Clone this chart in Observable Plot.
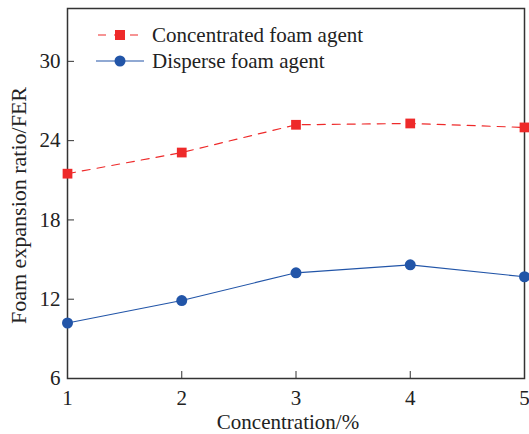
<!DOCTYPE html>
<html>
<head>
<meta charset="utf-8">
<script src="https://cdn.jsdelivr.net/npm/d3@7"></script>
<script src="https://cdn.jsdelivr.net/npm/@observablehq/plot@0.6"></script>
<style>
  html, body { margin: 0; padding: 0; background: #fff; }
  #wrap { position: relative; width: 529px; height: 434px; }
  #wrap svg text, .legend { font-family: "Liberation Serif", "DejaVu Serif", serif !important; }
  .legend { position: absolute; left: 96px; top: 22px; font-size: 21px; color: #222; }
  .legend div { display: flex; align-items: center; height: 26px; }
  .legend svg { margin-right: 8px; }
</style>
</head>
<body>
<div id="wrap"></div>
<script>
const concentration = [1, 2, 3, 4, 5];
const concentrated = [21.5, 23.1, 25.2, 25.3, 25.0];
const disperse = [10.2, 11.9, 14.0, 14.6, 13.7];
const yTicks = [6, 12, 18, 24, 30];
const xTicks = [1, 2, 3, 4, 5];
const xLabel = "Concentration/%";
const yLabel = "Foam expansion ratio/FER";
const seriesNames = ["Concentrated foam agent", "Disperse foam agent"];
const seriesColors = ["#ee2a2a", "#2255a8"];

const dataC = concentration.map((c, i) => ({x: c, y: concentrated[i]}));
const dataD = concentration.map((c, i) => ({x: c, y: disperse[i]}));

const font = '"Liberation Serif", "DejaVu Serif", serif';

const chart = Plot.plot({
  width: 529,
  height: 434,
  marginLeft: 67,
  marginRight: 5,
  marginTop: 8,
  marginBottom: 56,
  style: {fontFamily: font, fontSize: "21px", color: "#222", background: "#fff"},
  x: {domain: [1, 5]},
  y: {domain: [6, 34]},
  marks: [
    Plot.axisX({ticks: xTicks, tickSize: -7, text: null, label: null, stroke: "#333"}),
    Plot.axisX({ticks: xTicks, tickSize: 0, tickPadding: 12, tickFormat: d => String(d), fontSize: 21, label: null}),
    Plot.axisY({ticks: yTicks, tickSize: -7, text: null, label: null, stroke: "#333"}),
    Plot.axisY({ticks: yTicks, tickSize: 0, tickPadding: 7, tickFormat: d => String(d), fontSize: 21, label: null}),
    Plot.text([xLabel], {text: d => d, frameAnchor: "bottom", textAnchor: "middle", lineAnchor: "middle", dx: -8, dy: 44, fontSize: 21, fill: "#222"}),
    Plot.text([yLabel], {text: d => d, frameAnchor: "left", textAnchor: "middle", lineAnchor: "middle", rotate: -90, dx: -49, dy: 12, fontSize: 22, fill: "#222"}),
    Plot.frame({stroke: "#333", strokeWidth: 1.5}),
    Plot.line(dataC, {x: "x", y: "y", stroke: seriesColors[0], strokeWidth: 1.2, strokeDasharray: "8,7"}),
    Plot.dot(dataC, {x: "x", y: "y", symbol: "square", fill: seriesColors[0], r: 5.5}),
    Plot.line(dataD, {x: "x", y: "y", stroke: seriesColors[1], strokeWidth: 1.2}),
    Plot.dot(dataD, {x: "x", y: "y", fill: seriesColors[1], r: 5.5})
  ]
});

const wrap = document.getElementById("wrap");
wrap.appendChild(chart);

const legend = document.createElement("div");
legend.className = "legend";
seriesNames.forEach((name, i) => {
  const row = document.createElement("div");
  const dashed = i === 0;
  row.innerHTML = `<svg width="48" height="20"><line x1="0" x2="48" y1="10" y2="10" stroke="${seriesColors[i]}" stroke-width="1.2" ${dashed ? 'stroke-dasharray="8,8" stroke-dashoffset="-2"' : ''}/>` +
    (dashed ? `<rect x="19" y="5" width="10" height="10" fill="${seriesColors[i]}"/>` : `<circle cx="24" cy="10" r="5.5" fill="${seriesColors[i]}"/>`) +
    `</svg><span>${name}</span>`;
  legend.appendChild(row);
});
wrap.appendChild(legend);
</script>
</body>
</html>
